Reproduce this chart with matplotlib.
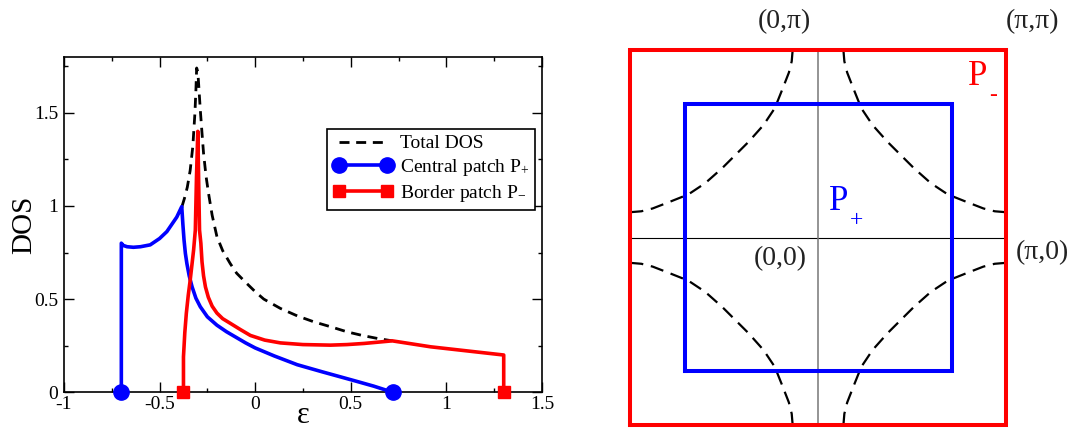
import numpy as np
import matplotlib
matplotlib.use('Agg')
import matplotlib.pyplot as plt

plt.rcParams['font.family'] = ['Liberation Serif', 'DejaVu Serif']
plt.rcParams['mathtext.fontset'] = 'custom'
plt.rcParams['mathtext.rm'] = 'Liberation Serif'
plt.rcParams['mathtext.it'] = 'Liberation Serif:italic'
plt.rcParams['axes.unicode_minus'] = False

# Densidade de estados total (tracejada)
eps_total = [-0.383, -0.37, -0.355, -0.34, -0.326, -0.315, -0.31, -0.306, -0.300, -0.296,
             -0.287, -0.278, -0.27, -0.257, -0.244, -0.225, -0.20, -0.17, -0.13, -0.097,
             -0.05, 0.0, 0.045, 0.132, 0.22, 0.307, 0.40, 0.482, 0.56, 0.639, 0.717]
dos_total = [0.996, 1.04, 1.10, 1.19, 1.32, 1.50, 1.62, 1.74, 1.72, 1.66,
             1.516, 1.39, 1.283, 1.16, 1.068, 0.95, 0.835, 0.76, 0.69, 0.639,
             0.59, 0.54, 0.50, 0.45, 0.41, 0.378, 0.35, 0.324, 0.305, 0.289, 0.276]

# Patch central P+
eps_central = [-0.70, -0.70, -0.69, -0.67, -0.637, -0.60, -0.549, -0.50, -0.462, -0.43,
               -0.41, -0.392, -0.384, -0.378, -0.372, -0.365, -0.357, -0.345, -0.33, -0.31,
               -0.287, -0.25, -0.20, -0.15, -0.10, -0.05, 0.0, 0.10, 0.22, 0.35,
               0.516, 0.62, 0.72]
dos_central = [0.0, 0.80, 0.788, 0.781, 0.778, 0.781, 0.791, 0.825, 0.862, 0.91,
               0.94, 0.979, 0.996, 0.90, 0.817, 0.745, 0.69, 0.625, 0.566, 0.505,
               0.459, 0.405, 0.36, 0.325, 0.295, 0.265, 0.238, 0.195, 0.148, 0.11,
               0.063, 0.033, 0.0]

# Patch de borda P-
eps_border = [-0.375, -0.375, -0.368, -0.36, -0.35, -0.34, -0.322, -0.313, -0.307, -0.300,
              -0.295, -0.291, -0.284, -0.278, -0.27, -0.26, -0.245, -0.225, -0.20, -0.17,
              -0.13, -0.078, -0.025, 0.05, 0.132, 0.25, 0.394, 0.48, 0.569, 0.717,
              0.918, 1.30, 1.30]
dos_border = [0.0, 0.19, 0.32, 0.424, 0.52, 0.60, 0.763, 0.87, 1.15, 1.40,
              1.10, 0.87, 0.80, 0.70, 0.625, 0.565, 0.51, 0.462, 0.425, 0.395,
              0.37, 0.337, 0.305, 0.28, 0.265, 0.256, 0.253, 0.256, 0.262, 0.276,
              0.244, 0.20, 0.0]

x_ticks = [-1, -0.5, 0, 0.5, 1, 1.5]
x_labels = ['-1', '-0.5', '0', '0.5', '1', '1.5']
y_ticks = [0, 0.5, 1, 1.5]
y_labels = ['0', '0.5', '1', '1.5']

# Superficie de Fermi num quadrante (unidades de pi)
fs_kx = [0.135, 0.14, 0.155, 0.19, 0.23, 0.29, 0.37, 0.44, 0.51, 0.60, 0.69, 0.79, 0.88, 0.94, 1.0]
fs_ky = [1.0, 0.94, 0.88, 0.79, 0.69, 0.60, 0.51, 0.44, 0.37, 0.29, 0.23, 0.19, 0.155, 0.14, 0.135]

bz_half = 1.0      # zona de Brillouin (P-)
patch_half = 0.71  # patch central (P+)

fig = plt.figure(figsize=(10.77, 4.30), dpi=100)

#------------------------- DOS -------------------------#
ax = fig.add_axes([0.0594, 0.0877, 0.4438, 0.7802])
ax.plot(eps_total, dos_total, color='black', lw=2.0, dashes=(3.6, 2.4), label='Total DOS', zorder=2)
ax.plot(eps_central, dos_central, color='#0000ff', lw=2.6, marker='o', ms=11,
        markevery=[0, len(eps_central) - 1], clip_on=False, zorder=3,
        label=r'Central patch $\mathrm{P}_{+}$')
ax.plot(eps_border, dos_border, color='#ff0000', lw=2.6, marker='s', ms=9,
        markevery=[0, len(eps_border) - 1], clip_on=False, zorder=4,
        label=r'Border patch $\mathrm{P}_{-}$')

ax.set_xlim(-1, 1.5)
ax.set_ylim(0, 1.8)
ax.set_xticks(x_ticks)
ax.set_xticklabels(x_labels)
ax.set_yticks(y_ticks)
ax.set_yticklabels(y_labels)
ax.set_xticks(np.arange(-1, 1.51, 0.25), minor=True)
ax.set_yticks(np.arange(0, 1.8, 0.25), minor=True)
ax.tick_params(which='both', direction='in', top=True, right=True, labelsize=14, width=1.0)
ax.tick_params(which='major', length=7.2)
ax.tick_params(which='minor', length=3.2)
ax.tick_params(axis='y', pad=4)
ax.tick_params(axis='x', pad=3)
for s in ax.spines.values():
    s.set_linewidth(1.2)

ax.set_ylabel('DOS', fontsize=21, labelpad=-2)
ax.set_xlabel('ε', fontsize=22, va='center')
ax.xaxis.set_label_coords(0.5, -0.068)

leg = ax.legend(loc='upper left', bbox_to_anchor=(0.55, 0.785), fontsize=14,
                handlelength=3.1, handletextpad=0.35, labelspacing=0.25,
                borderpad=0.3, borderaxespad=0, numpoints=2, fancybox=False, framealpha=1)
leg.get_frame().set_edgecolor('black')
leg.get_frame().set_linewidth(1.2)

#------------------- Zona de Brillouin -------------------#
bz = fig.add_axes([0.585, 0.0116, 0.3491, 0.872])
bz.set_xlim(-1, 1)
bz.set_ylim(-1, 1)
bz.axis('off')

bz.plot([-bz_half, bz_half], [0, 0], color='black', lw=0.8)
bz.plot([0, 0], [-bz_half, bz_half], color='#777777', lw=1.1)

for sx in (1, -1):
    for sy in (1, -1):
        bz.plot(np.array(fs_kx) * sx, np.array(fs_ky) * sy, color='black', lw=1.6,
                dashes=(6, 3.5))

bz.plot([-patch_half, patch_half, patch_half, -patch_half, -patch_half],
        [-patch_half, -patch_half, patch_half, patch_half, -patch_half],
        color='#0000ff', lw=2.9, solid_joinstyle='miter')
bz.plot([-bz_half, bz_half, bz_half, -bz_half, -bz_half],
        [-bz_half, -bz_half, bz_half, bz_half, -bz_half],
        color='#ff0000', lw=2.9, solid_joinstyle='miter', clip_on=False)

txt = dict(fontsize=20, color='#222222', clip_on=False)
bz.text(-0.18, 1.15, '(0,π)', ha='center', va='center', **txt)
bz.text(1.14, 1.15, '(π,π)', ha='center', va='center', **txt)
bz.text(1.05, -0.08, '(π,0)', ha='left', va='center', **txt)
bz.text(-0.06, -0.11, '(0,0)', ha='right', va='center', **txt)

bz.text(0.85, 0.86, 'P', fontsize=25, color='#ff0000', ha='center', va='center')
bz.text(0.93, 0.76, '-', fontsize=17, color='#ff0000', ha='center', va='center')
bz.text(0.11, 0.19, 'P', fontsize=25, color='#0000ff', ha='center', va='center')
bz.text(0.205, 0.09, '+', fontsize=17, color='#0000ff', ha='center', va='center')

fig.savefig('out.png', dpi=100)
